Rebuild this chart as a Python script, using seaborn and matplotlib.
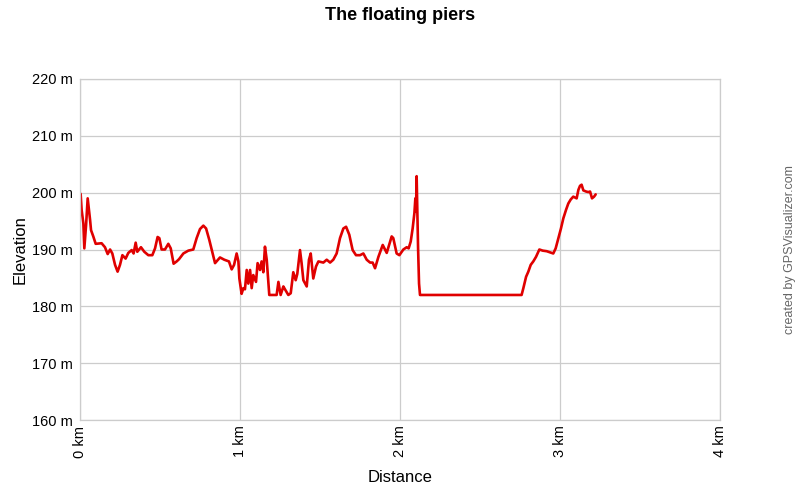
import pandas as pd
import matplotlib
matplotlib.use('Agg')
import matplotlib.pyplot as plt
import seaborn as sns

# Track profile (distance in km, elevation in m)
DISTANCE_KM = [
    0.004, 0.010, 0.021, 0.027, 0.038, 0.048, 0.056, 0.063, 0.069, 0.083,
    0.098, 0.135, 0.156, 0.173, 0.188, 0.202, 0.219, 0.235, 0.250, 0.265,
    0.285, 0.302, 0.323, 0.335, 0.348, 0.358, 0.381, 0.402, 0.427, 0.452,
    0.469, 0.485, 0.496, 0.510, 0.531, 0.552, 0.567, 0.585, 0.604, 0.619,
    0.646, 0.677, 0.708, 0.729, 0.750, 0.771, 0.788, 0.808, 0.844, 0.875,
    0.902, 0.931, 0.948, 0.963, 0.979, 0.990, 0.996, 1.010,
    1.021, 1.031, 1.042, 1.052, 1.063, 1.073, 1.083, 1.100, 1.110, 1.125,
    1.135, 1.146, 1.156, 1.167, 1.183, 1.229, 1.240, 1.254, 1.271, 1.281,
    1.302, 1.317, 1.333, 1.348, 1.358, 1.375, 1.385, 1.396, 1.417, 1.431,
    1.442, 1.458, 1.475, 1.490, 1.521, 1.542, 1.563, 1.583, 1.604, 1.625,
    1.646, 1.663, 1.683, 1.704, 1.725, 1.750, 1.771, 1.792, 1.813, 1.829,
    1.844, 1.865, 1.892, 1.917, 1.948, 1.958, 1.979, 1.996,
    2.021, 2.042, 2.054, 2.067, 2.079, 2.090, 2.096, 2.100, 2.104, 2.108,
    2.113, 2.119, 2.125,
    2.760, 2.771, 2.788, 2.802, 2.817, 2.833, 2.850, 2.871, 2.892, 2.917,
    2.938, 2.958, 2.973, 2.990, 3.006, 3.021, 3.038, 3.052, 3.067, 3.083,
    3.104, 3.115, 3.125, 3.135, 3.146, 3.163, 3.177, 3.188, 3.200, 3.213,
    3.223,
]
ELEVATION_M = [
    199.8, 197.0, 194.6, 190.2, 194.3, 199.0, 197.0, 195.2, 193.4, 192.3,
    191.0, 191.1, 190.4, 189.2, 190.0, 189.3, 187.3, 186.1, 187.3, 189.0,
    188.4, 189.4, 189.9, 189.3, 191.2, 189.6, 190.4, 189.6, 189.0, 189.0,
    190.2, 192.2, 192.0, 190.0, 190.0, 191.0, 190.2, 187.5, 187.9, 188.3,
    189.3, 189.8, 190.0, 192.0, 193.6, 194.2, 193.7, 191.7, 187.6, 188.6,
    188.2, 187.9, 186.5, 187.3, 189.3, 187.9, 184.9, 182.2,
    183.2, 183.0, 186.4, 184.0, 186.4, 183.2, 185.5, 184.3, 187.6, 186.4,
    187.9, 186.0, 190.5, 188.2, 182.0, 182.0, 184.3, 182.0, 183.5, 183.0,
    182.0, 182.3, 186.0, 184.6, 185.7, 189.9, 187.6, 184.6, 183.5, 188.2,
    189.3, 184.9, 187.0, 187.9, 187.7, 188.2, 187.7, 188.2, 189.3, 192.0,
    193.7, 194.0, 192.6, 189.9, 189.0, 189.0, 189.3, 188.2, 187.7, 187.7,
    186.7, 188.7, 190.8, 189.4, 192.3, 192.0, 189.3, 189.0,
    190.0, 190.4, 190.2, 191.4, 193.7, 196.4, 199.0, 196.7, 202.9, 197.5,
    190.2, 184.0, 182.0,
    182.0, 183.2, 185.2, 186.1, 187.3, 187.9, 188.7, 190.0, 189.8, 189.7,
    189.5, 189.3, 190.2, 192.0, 193.7, 195.5, 197.0, 198.1, 198.8, 199.3,
    199.0, 200.5, 201.2, 201.4, 200.4, 200.2, 200.1, 200.2, 199.0, 199.3,
    199.7,
]

X_TICKS = [0, 1, 2, 3, 4]
X_TICK_LABELS = ['0 km', '1 km', '2 km', '3 km', '4 km']
Y_TICKS = [160, 170, 180, 190, 200, 210, 220]
Y_TICK_LABELS = ['160 m', '170 m', '180 m', '190 m', '200 m', '210 m', '220 m']

sns.set_style('whitegrid', {'grid.color': '#cccccc', 'axes.edgecolor': '#cccccc',
                            'text.color': 'black', 'axes.labelcolor': 'black',
                            'xtick.color': 'black', 'ytick.color': 'black'})
plt.rcParams['font.family'] = ['Liberation Sans', 'DejaVu Sans']

df = pd.DataFrame({'distance': DISTANCE_KM, 'elevation': ELEVATION_M})

fig = plt.figure(figsize=(8, 5), dpi=100)
ax = fig.add_axes([0.1, 0.16, 0.8, 0.682])

sns.lineplot(data=df, x='distance', y='elevation', ax=ax, color='#e00000',
             linewidth=1.9, estimator=None, sort=False)

ax.set_xlim(0, 4)
ax.set_ylim(160, 220)
ax.set_xticks(X_TICKS)
ax.set_xticklabels(X_TICK_LABELS, rotation=90, fontsize=10.5)
ax.set_yticks(Y_TICKS)
ax.set_yticklabels(Y_TICK_LABELS, fontsize=10.5)
ax.tick_params(axis='y', length=3, width=0.9, color='#cccccc', pad=2)
ax.tick_params(axis='x', length=0, pad=4)
ax.grid(True, color='#cccccc', linewidth=0.9)
for s in ax.spines.values():
    s.set_color('#cccccc')
    s.set_linewidth(0.9)

ax.set_xlabel('Distance', fontsize=12, labelpad=9, color='black')
ax.set_ylabel('Elevation', fontsize=12, labelpad=3, color='black')
fig.suptitle('The floating piers', fontsize=13, fontweight='bold', y=0.985, color='black')
fig.text(0.988, 0.5, 'created by GPSVisualizer.com', rotation=90, color='#666666',
         fontsize=9, ha='center', va='center')

plt.savefig('out.png', dpi=100)
